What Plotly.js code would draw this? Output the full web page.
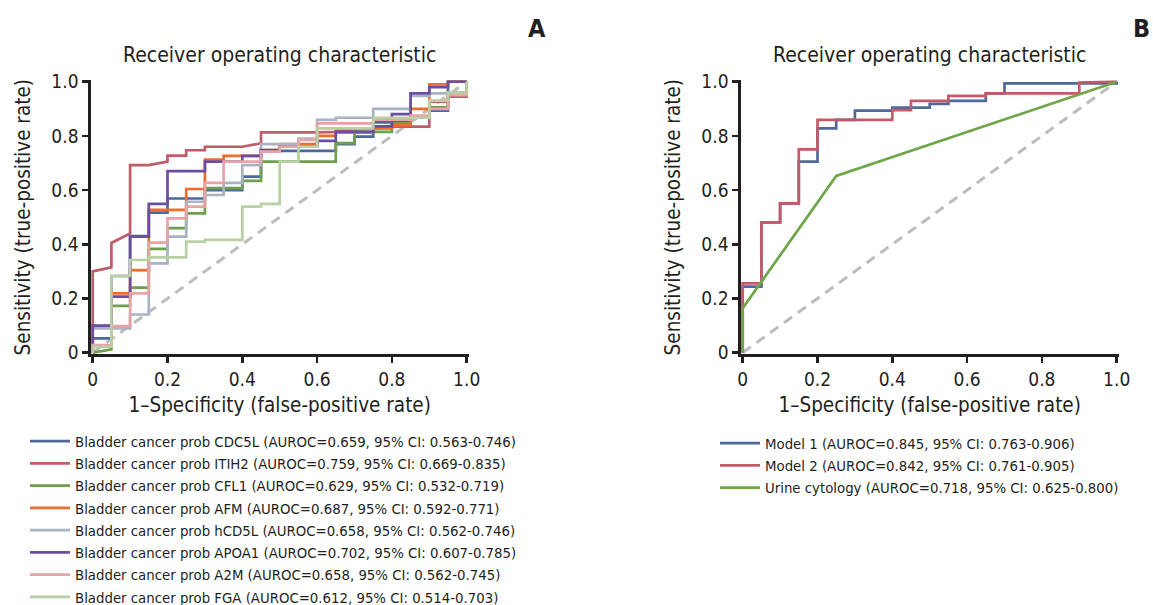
<!DOCTYPE html>
<html><head><meta charset="utf-8">
<script src="https://cdn.plot.ly/plotly-3.0.1.min.js"></script>
<style>body{margin:0;background:#fff}#chart{width:1153px;height:605px}</style>
</head><body><div id="chart"></div>
<script>
// ---------- Panel A data ----------
const namesA = [
  "Bladder cancer prob CDC5L (AUROC=0.659, 95% CI: 0.563-0.746)",
  "Bladder cancer prob ITIH2 (AUROC=0.759, 95% CI: 0.669-0.835)",
  "Bladder cancer prob CFL1 (AUROC=0.629, 95% CI: 0.532-0.719)",
  "Bladder cancer prob AFM (AUROC=0.687, 95% CI: 0.592-0.771)",
  "Bladder cancer prob hCD5L (AUROC=0.658, 95% CI: 0.562-0.746)",
  "Bladder cancer prob APOA1 (AUROC=0.702, 95% CI: 0.607-0.785)",
  "Bladder cancer prob A2M (AUROC=0.658, 95% CI: 0.562-0.745)",
  "Bladder cancer prob FGA (AUROC=0.612, 95% CI: 0.514-0.703)"
];
const colorsA = ["#4e6a9d","#c05d68","#6f9f4c","#f26a2c","#a9b3c4","#6b4ea2","#e7a3a8","#b8d0a3"];

const cdc5l_fpr = [0,0,0.05,0.05,0.1,0.1,0.15,0.15,0.2,0.2,0.3,0.3,0.4,0.4,0.45,0.45,0.65,0.65,0.7,0.7,0.75,0.75,0.85,0.85,0.9,0.9,0.95,0.95,1];
const cdc5l_tpr = [0,0.053,0.053,0.283,0.283,0.43,0.43,0.517,0.517,0.569,0.569,0.60,0.60,0.65,0.65,0.745,0.745,0.77,0.77,0.797,0.797,0.85,0.85,0.87,0.87,0.893,0.893,1,1];

const itih2_fpr = [0,0,0.05,0.05,0.1,0.1,0.15,0.2,0.2,0.25,0.25,0.3,0.3,0.4,0.45,0.45,0.6,0.65,0.65,0.8,0.8,0.9,0.9,0.95,0.95,1,1];
const itih2_tpr = [0,0.30,0.315,0.405,0.44,0.692,0.692,0.705,0.727,0.727,0.747,0.747,0.76,0.76,0.773,0.813,0.813,0.815,0.82,0.83,0.834,0.834,0.926,0.926,0.945,0.945,1];

const cfl1_fpr = [0,0.05,0.05,0.1,0.1,0.15,0.15,0.2,0.2,0.25,0.25,0.3,0.3,0.4,0.4,0.45,0.45,0.65,0.65,0.7,0.7,0.8,0.8,0.85,0.85,0.9,0.9,0.95,0.95,1,1];
const cfl1_tpr = [0,0.012,0.173,0.173,0.24,0.24,0.383,0.383,0.46,0.46,0.514,0.514,0.607,0.607,0.634,0.634,0.705,0.705,0.773,0.773,0.815,0.815,0.846,0.846,0.87,0.87,0.905,0.905,0.96,0.96,1];

const afm_fpr = [0,0,0.05,0.05,0.1,0.1,0.15,0.15,0.25,0.25,0.3,0.3,0.35,0.35,0.45,0.45,0.5,0.5,0.6,0.6,0.65,0.65,0.75,0.75,0.8,0.8,0.85,0.85,0.9,0.9,0.95,0.95,1];
const afm_tpr = [0,0.098,0.098,0.219,0.219,0.305,0.305,0.527,0.527,0.604,0.604,0.713,0.713,0.726,0.726,0.748,0.748,0.77,0.77,0.80,0.80,0.813,0.813,0.828,0.828,0.84,0.84,0.90,0.90,0.99,0.99,1,1];

const hcd5l_fpr = [0,0,0.1,0.1,0.15,0.15,0.2,0.2,0.25,0.25,0.3,0.3,0.35,0.35,0.4,0.4,0.45,0.45,0.55,0.55,0.6,0.6,0.65,0.65,0.75,0.75,0.85,0.85,0.9,0.9,0.95,0.95,1,1];
const hcd5l_tpr = [0,0.09,0.09,0.141,0.141,0.33,0.33,0.428,0.428,0.557,0.557,0.582,0.582,0.627,0.627,0.692,0.692,0.77,0.77,0.79,0.79,0.859,0.859,0.867,0.867,0.90,0.90,0.948,0.948,0.957,0.957,0.96,0.96,1];

const apoa1_fpr = [0,0,0.05,0.05,0.1,0.1,0.15,0.15,0.2,0.2,0.3,0.3,0.4,0.4,0.45,0.45,0.5,0.5,0.6,0.6,0.65,0.65,0.75,0.75,0.8,0.8,0.85,0.85,0.9,0.9,0.95,0.95,1];
const apoa1_tpr = [0,0.10,0.10,0.207,0.207,0.428,0.428,0.549,0.549,0.67,0.67,0.705,0.705,0.726,0.726,0.748,0.748,0.76,0.76,0.782,0.782,0.815,0.815,0.835,0.835,0.88,0.88,0.957,0.957,0.98,0.98,1,1];

const a2m_fpr = [0,0,0.05,0.05,0.1,0.1,0.15,0.15,0.2,0.2,0.25,0.25,0.3,0.3,0.35,0.35,0.45,0.45,0.5,0.5,0.55,0.55,0.6,0.6,0.75,0.75,0.85,0.85,0.9,0.9,0.95,0.95,1,1];
const a2m_tpr = [0,0.028,0.028,0.098,0.098,0.219,0.219,0.406,0.406,0.496,0.496,0.539,0.539,0.627,0.627,0.705,0.705,0.742,0.742,0.76,0.76,0.785,0.785,0.846,0.846,0.86,0.86,0.875,0.875,0.90,0.90,0.95,0.95,1];

const fga_fpr = [0,0,0.05,0.05,0.1,0.1,0.15,0.15,0.25,0.25,0.3,0.3,0.4,0.4,0.45,0.45,0.5,0.5,0.55,0.55,0.6,0.6,0.75,0.75,0.9,0.9,0.95,0.95,1,1];
const fga_tpr = [0,0.022,0.022,0.283,0.283,0.342,0.342,0.352,0.352,0.41,0.41,0.416,0.416,0.539,0.539,0.549,0.549,0.705,0.705,0.76,0.76,0.828,0.828,0.867,0.867,0.93,0.93,0.96,0.96,1];

const fprA = [cdc5l_fpr, itih2_fpr, cfl1_fpr, afm_fpr, hcd5l_fpr, apoa1_fpr, a2m_fpr, fga_fpr];
const tprA = [cdc5l_tpr, itih2_tpr, cfl1_tpr, afm_tpr, hcd5l_tpr, apoa1_tpr, a2m_tpr, fga_tpr];

// ---------- Panel B data ----------
const namesB = [
  "Model 1 (AUROC=0.845, 95% CI: 0.763-0.906)",
  "Model 2 (AUROC=0.842, 95% CI: 0.761-0.905)",
  "Urine cytology (AUROC=0.718, 95% CI: 0.625-0.800)"
];
const colorsB = ["#4e6a9d","#c45a67","#6fa64a"];
const model1_fpr = [0,0,0.05,0.05,0.1,0.1,0.15,0.15,0.2,0.2,0.25,0.25,0.3,0.3,0.4,0.4,0.5,0.5,0.55,0.55,0.65,0.65,0.7,0.7,1,1];
const model1_tpr = [0,0.244,0.244,0.481,0.481,0.551,0.551,0.705,0.705,0.828,0.828,0.859,0.859,0.893,0.893,0.904,0.904,0.918,0.918,0.929,0.929,0.957,0.957,0.994,0.994,1];
const model2_fpr = [0,0,0.05,0.05,0.1,0.1,0.15,0.15,0.2,0.2,0.4,0.4,0.45,0.45,0.55,0.55,0.65,0.65,0.9,0.9,1];
const model2_tpr = [0,0.256,0.256,0.481,0.481,0.551,0.551,0.75,0.75,0.859,0.859,0.895,0.895,0.929,0.929,0.948,0.948,0.957,0.957,0.997,1];
const cyto_fpr = [0,0,0.25,1];
const cyto_tpr = [0,0.164,0.652,1];
const fprB = [model1_fpr, model2_fpr, cyto_fpr];
const tprB = [model1_tpr, model2_tpr, cyto_tpr];

const chanceLine = [0,1];
const tickVals = [0,0.2,0.4,0.6,0.8,1.0];
const tickText = ["0","0.2","0.4","0.6","0.8","1.0"];

const FONT = "'Liberation Sans Narrow','DejaVu Sans Condensed','Arial Narrow',sans-serif";
const INK = "#231f20";

const traces = [];
traces.push({x: chanceLine, y: chanceLine, xaxis:'x', yaxis:'y', mode:'lines', showlegend:false,
  line:{color:'#bdbdbd', width:3, dash:'10px,7px'}, hoverinfo:'skip'});
for (let i = 0; i < namesA.length; i++) {
  traces.push({x: fprA[i], y: tprA[i], xaxis:'x', yaxis:'y', mode:'lines', name: namesA[i],
    legend:'legend', line:{color: colorsA[i], width:2.7}});
}
traces.push({x: chanceLine, y: chanceLine, xaxis:'x2', yaxis:'y2', mode:'lines', showlegend:false,
  line:{color:'#bdbdbd', width:3, dash:'10px,7px'}, hoverinfo:'skip'});
for (let i = 0; i < namesB.length; i++) {
  traces.push({x: fprB[i], y: tprB[i], xaxis:'x2', yaxis:'y2', mode:'lines', name: namesB[i],
    legend:'legend2', line:{color: colorsB[i], width:2.7}});
}

const W = 1153, H = 605;
const pad = 0.005;
function xdom(p0, p1) { const s = (p1 - p0); return [(p0 - pad*s)/W, (p1 + pad*s)/W]; }
function ydom(top, bot) { const s = (bot - top); return [1 - (bot + pad*s)/H, 1 - (top - pad*s)/H]; }

function axisBase(extra) {
  return Object.assign({
    range: [-pad, 1 + pad], tickvals: tickVals, ticktext: tickText,
    showgrid: false, zeroline: false, showline: true, linecolor: INK, linewidth: 2.5,
    ticks: 'outside', ticklen: 6, tickwidth: 2.5, tickcolor: INK, automargin: false,
    tickfont: {family: FONT, size: 19, color: INK}, layer: 'below traces', fixedrange: true
  }, extra);
}

const xTitle = {text: "1\u2013Specificity (false-positive rate)", font: {family: FONT, size: 20.5, color: INK}, standoff: 9};
const yTitle = {text: "Sensitivity (true-positive rate)", font: {family: FONT, size: 20.5, color: INK}, standoff: 15};

const legFont = {family: FONT, size: 14.8, color: INK};
const layout = {
  width: W, height: H, margin: {l:0, r:0, t:0, b:0, autoexpand: false},
  paper_bgcolor: '#fff', plot_bgcolor: 'rgba(0,0,0,0)',
  font: {family: FONT, color: INK},
  xaxis: axisBase({domain: xdom(92.7, 466.7), anchor: 'y', title: xTitle, ticklabelstandoff: 1}),
  yaxis: axisBase({domain: ydom(81.7, 352.7), anchor: 'x', title: yTitle, ticklabelstandoff: 0}),
  xaxis2: axisBase({domain: xdom(742.7, 1116.7), anchor: 'y2', title: xTitle, ticklabelstandoff: 1}),
  yaxis2: axisBase({domain: ydom(81.7, 352.7), anchor: 'x2', title: yTitle, ticklabelstandoff: 0}),
  legend: {x: 25/W, y: 1 - 425/H, xanchor:'left', yanchor:'top', bgcolor:'rgba(0,0,0,0)',
    font: legFont, itemwidth: 40, tracegroupgap: 0},
  legend2: {x: 715/W, y: 1 - 427/H, xanchor:'left', yanchor:'top', bgcolor:'rgba(0,0,0,0)',
    font: legFont, itemwidth: 40, tracegroupgap: 0},
  annotations: [
    {text: "Receiver operating characteristic", x: 279.7/W, y: 1 - 55/H, xref:'paper', yref:'paper',
      xanchor:'center', yanchor:'middle', showarrow:false, font:{family: FONT, size: 21, color: INK}},
    {text: "Receiver operating characteristic", x: 929.7/W, y: 1 - 55/H, xref:'paper', yref:'paper',
      xanchor:'center', yanchor:'middle', showarrow:false, font:{family: FONT, size: 21, color: INK}},
    {text: "<b>A</b>", x: 537/W, y: 1 - 28/H, xref:'paper', yref:'paper', showarrow:false,
      xanchor:'center', yanchor:'middle', font:{family: FONT, size: 25, color: INK}},
    {text: "<b>B</b>", x: 1152/W, y: 1 - 28/H, xref:'paper', yref:'paper', showarrow:false,
      xanchor:'right', yanchor:'middle', font:{family: FONT, size: 25, color: INK}}
  ]
};

Plotly.newPlot('chart', traces, layout, {staticPlot: true, displayModeBar: false});
</script>
</body></html>
